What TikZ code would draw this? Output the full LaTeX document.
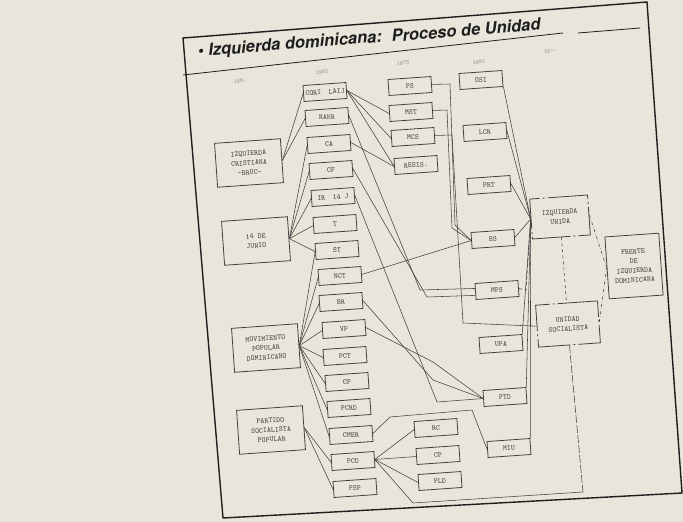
\documentclass[tikz,border=0pt]{standalone}
\usepackage{fontspec}
\newfontfamily\titlefont{TeX Gyre Heros}
\definecolor{paper}{RGB}{232,229,218}
\definecolor{ink}{RGB}{65,65,65}
\definecolor{frameink}{RGB}{30,30,30}
\begin{document}
\begin{tikzpicture}[x=1pt, y=-1pt,
    party/.style={draw=ink, line width=0.8pt, minimum width=43pt, minimum height=16pt, inner sep=1pt, rotate=4, font=\ttfamily\fontsize{7.5}{9.5}\selectfont, text=ink},
    bloc/.style={party, minimum width=66pt, minimum height=44pt, align=center},
    outcome/.style={bloc, dash pattern=on 40pt off 3pt on 2pt off 3pt},
    link/.style={draw=ink, line width=0.55pt},
    year/.style={font=\ttfamily\fontsize{6}{7}\selectfont, text=ink!60, rotate=4, inner sep=0pt},
    headline/.style={rotate=4.6, inner sep=0pt, font=\titlefont\bfseries\itshape\fontsize{16.5}{18}\selectfont, text=frameink},
    frame/.style={draw=frameink, line width=1.4pt}]
    \fill[paper] (0,0) rectangle (683,522);
    \useasboundingbox (0,0) rectangle (683,522);

    \draw[frame] (183,38) -- (647,2) -- (682,493) -- (223,518) -- cycle;
    \draw[frame, line width=0.8pt] (183,75) -- (563,33);
    \draw[frame, line width=0.8pt] (578,33) -- (640,28);
    \node[headline] (head) at (290,45) {\textbullet\ Izquierda dominicana:};
    \node[headline] (subhead) at (466,30) {Proceso de Unidad};

    \node[year] (y1) at (240,81) {196-};
    \node[year] (y2) at (322,72) {1965};
    \node[year] (y3) at (403,63) {1975};
    \node[year] (y4) at (479,62) {1981};
    \node[year] (y5) at (550,51) {19--};

    \node[bloc] (IC) at (249,163) {IZQUIERDA\\CRISTIANA\\-BRUC-};
    \node[bloc] (DJ) at (256,241) {14 DE\\JUNIO};
    \node[bloc] (MPD) at (266,348) {MOVIMIENTO\\POPULAR\\DOMINICANO};
    \node[bloc] (PSPb) at (271,430) {PARTIDO\\SOCIALISTA\\POPULAR};

    \node[party] (CORI) at (325,92) {CORI\quad LAIJ};
    \node[party] (NAKR) at (327,117) {NAKR};
    \node[party] (CA) at (329,144) {CA};
    \node[party] (CF) at (331,170) {CF};
    \node[party] (IR) at (333,197) {IR\quad 14 J};
    \node[party] (T) at (335,224) {T};
    \node[party] (ST) at (337,250) {ST};
    \node[party] (NCT) at (340,276) {NCT};
    \node[party] (BR) at (341,302) {BR};
    \node[party] (VP) at (344,329) {VP};
    \node[party] (PCT) at (345,356) {PCT};
    \node[party] (CP) at (347,382) {CP};
    \node[party] (PCRD) at (349,408) {PCRD};
    \node[party] (CMER) at (351,435) {CMER};
    \node[party] (PCD) at (353,461) {PCD};
    \node[party] (PSP) at (355,488) {PSP};

    \node[party] (PS) at (410,86) {PS};
    \node[party] (MST) at (411,112) {MST};
    \node[party] (MCS) at (413,137) {MCS};
    \node[party] (RESIS) at (416,165) {RESIS.};
    \node[party] (RC) at (436,428) {RC};
    \node[party] (CPb) at (438,455) {CP};
    \node[party] (PLD) at (440,481) {PLD};

    \node[party] (OSI) at (481,80) {OSI};
    \node[party] (LCR) at (485,132) {LCR};
    \node[party] (PRT) at (489,185) {PRT};
    \node[party] (BS) at (493,239) {BS};
    \node[party] (MPS) at (497,290) {MPS};
    \node[party] (UPA) at (501,344) {UPA};
    \node[party] (PTD) at (505,397) {PTD};
    \node[party] (MIU) at (509,448) {MIU};

    \node[outcome, minimum width=58pt, minimum height=40pt] (IU) at (560,217) {IZQUIERDA\\UNIDA};
    \node[outcome, minimum width=62pt, minimum height=42pt] (US) at (568,324) {UNIDAD\\SOCIALISTA};
    \node[bloc, minimum width=54pt, minimum height=62pt] (FID) at (634,266) {FRENTE\\DE\\IZQUIERDA\\DOMINICANA};

    \coordinate (pcdfoot) at (413,503);
    \coordinate (foot) at (583,492);

    \draw[link] (IC.east) -- (CORI.west);
    \draw[link] (IC.east) -- (NAKR.west);
    \draw[link] (DJ.east) -- (CA.west);
    \draw[link] (DJ.east) -- (CF.west);
    \draw[link] (DJ.east) -- (IR.west);
    \draw[link] (DJ.east) -- (T.west);
    \draw[link] (DJ.east) -- (ST.west);
    \draw[link] (MPD.east) -- (ST.west);
    \draw[link] (MPD.east) -- (NCT.west);
    \draw[link] (MPD.east) -- (BR.west);
    \draw[link] (MPD.east) -- (VP.west);
    \draw[link] (MPD.east) -- (PCT.west);
    \draw[link] (MPD.east) -- (CP.west);
    \draw[link] (MPD.east) -- (PCRD.west);
    \draw[link] (MPD.east) -- (CMER.west);
    \draw[link] (PSPb.east) -- (PCD.west);
    \draw[link] (PSPb.east) -- (PSP.west);

    \draw[link] (CORI.east) -- (MST.west);
    \draw[link] (CORI.east) -- (MCS.west);
    \draw[link] (CORI.east) -- (RESIS.west);
    \draw[link] (CA.east) -- (RESIS.west);
    \draw[link] (NAKR.east) -- (420,290) -- (MPS.172);
    \draw[link] (CF.east) -- (427,297) -- (MPS.190);
    \draw[link] (NCT.east) -- (BS.west);
    \draw[link] (IR.east) -- (437,402) -- (PTD.west);
    \draw[link] (BR.east) -- (433,380) -- (PTD.west);
    \draw[link] (VP.east) -- (433,362) -- (PTD.west);
    \draw[link] (CMER.east) -- (390,417) -- (472,410) -- (MIU.west);
    \draw[link] (PCD.east) -- (RC.west);
    \draw[link] (PCD.east) -- (CPb.west);
    \draw[link] (PCD.east) -- (PLD.west);
    \draw[link] (PCD.east) -- (pcdfoot) -- (foot);

    \draw[link] (PS.east) -- (450,84) -- (455,225) -- (BS.west);
    \draw[link] (MST.east) -- (447,110) -- (452,228) -- (BS.west);
    \draw[link] (MCS.east) -- (452,135) -- (463,323) -- (US.west);

    \draw[link] (OSI.south east) -- (IU.west);
    \draw[link] (LCR.east) -- (IU.west);
    \draw[link] (PRT.east) -- (IU.west);
    \draw[link] (BS.east) -- (IU.west);
    \draw[link, dashed] (MPS.east) -- (526,290) -- (IU.west);
    \draw[link] (UPA.north east) -- (IU.west);
    \draw[link] (PTD.north east) -- (IU.west);
    \draw[link] (MIU.north east) -- (IU.west);

    \draw[link, dashdotted] (IU.east) -- (FID.west);
    \draw[link, dashdotted] (US.east) -- (FID.west);
    \draw[link, dashed] (IU.south) -- (US.north);
    \draw[link, dash pattern=on 8pt off 2pt] (US.south) -- (foot);
\end{tikzpicture}
\end{document}
